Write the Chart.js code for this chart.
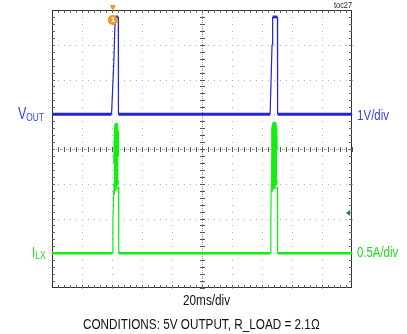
<!DOCTYPE html>
<html>
<head>
<meta charset="utf-8">
<script src="https://cdn.jsdelivr.net/npm/chart.js@4.4.1/dist/chart.umd.min.js"></script>
<style>
  body { margin: 0; background: #fff; }
  #wrap { position: relative; width: 407px; height: 334px; overflow: hidden; font-family: "Liberation Sans", Arial, sans-serif; }
  #scope { position: absolute; left: 0; top: 0; }
  .lbl { position: absolute; white-space: nowrap; line-height: 1; transform-origin: 0 0; }
  .lbl sub { font-size: 11px; line-height: 1; vertical-align: -2px; }
  .blue { color: #3246e4; }
  .green { color: #1edc1e; }
</style>
</head>
<body>
<div id="wrap">
  <canvas id="scope" width="407" height="334"></canvas>
  <div class="lbl" style="left:334px;top:1px;font-size:9px;transform:scaleX(0.82);color:#222">toc27</div>
  <div class="lbl blue" style="left:18px;top:105px;font-size:16.5px;transform:scaleX(0.76)">V<sub>OUT</sub></div>
  <div class="lbl blue" style="left:357px;top:107px;font-size:15px;transform:scaleX(0.77)">1V/div</div>
  <div class="lbl green" style="left:32px;top:244px;font-size:15.5px;transform:scaleX(0.76)">I<sub>LX</sub></div>
  <div class="lbl green" style="left:357px;top:244px;font-size:15px;transform:scaleX(0.76)">0.5A/div</div>
  <div class="lbl" style="left:183px;top:293px;font-size:14px;transform:scaleX(0.84);color:#111">20ms/div</div>
  <div class="lbl" style="left:83px;top:316px;font-size:15.5px;transform:scaleX(0.757);color:#111">CONDITIONS: 5V OUTPUT, R_LOAD = 2.1Ω</div>
  <div id="trigLbl" class="lbl" style="font-size:8px;color:#fff;font-weight:bold">1</div>
</div>
<script>
// scope settings: 10 x 8 divisions
const X_DIVS = 10;
const Y_DIVS = 8;
const MS_PER_DIV = 20;

// V_OUT trace (ms, volts) - 1V/div, 0V at bottom line
const vTime = [0, 39.7, 40.3, 41.2, 42.0, 42.3, 44.2, 44.3, 145.4, 146.0, 146.7, 147.1, 150.3, 150.4, 200];
const vOut = [5.0, 5.0, 5.6, 6.5, 7.6, 7.8, 7.8, 5.0, 5.0, 5.9, 7.0, 7.8, 7.8, 5.0, 5.0];

// I_LX trace (ms, amps) - 0.5A/div, 0A one division above bottom
const iTime = [0, 40.0, 40.6, 41.2, 44.4, 44.5, 145.6, 145.9, 146.1, 150.3, 150.4, 200];
const iLx = [0, 0, 0.45, 0.9, 0.95, 0, 0, 0.5, 0.92, 0.95, 0, 0];

// switching bursts (envelope of the inductor current)
const burst1Time = [41.1, 41.5, 42.0, 42.8, 43.6, 44.1, 44.4];
const burst1Top = [1.3, 1.75, 1.86, 1.88, 1.86, 1.75, 1.4];
const burst1Bottom = [1.0, 0.85, 0.9, 0.95, 0.98, 1.0, 1.05];
const burst2Time = [146.0, 146.5, 147.2, 148.2, 149.2, 149.9, 150.2];
const burst2Top = [1.35, 1.8, 1.88, 1.89, 1.88, 1.8, 1.5];
const burst2Bottom = [1.0, 0.88, 0.92, 0.95, 0.97, 1.0, 1.05];

const triggerTime = 40.5;
const refMarkerA = 0.58;

const BLUE = '#2323dc';
const GREEN = '#14ec14';

const pts = (t, v) => t.map((x, i) => ({ x, y: v[i] }));
const flatWide = (w1, w2) => ctx => (ctx.p0.parsed.y === ctx.p1.parsed.y ? w1 : w2);

const scopeGrid = {
  id: 'scopeGrid',
  beforeDatasetsDraw(chart) {
    const { ctx, chartArea: a, scales: { x, yV } } = chart;
    const px = t => Math.round(x.getPixelForValue(t));
    const py = d => Math.round(yV.getPixelForValue(d));
    ctx.save();
    ctx.fillStyle = '#b0b0b0';
    for (let i = 1; i < X_DIVS; i++) {
      if (i === X_DIVS / 2) continue;
      for (let j = 0; j <= Y_DIVS * 5; j++) ctx.fillRect(px(i * MS_PER_DIV), py(j / 5), 1, 1);
    }
    for (let j = 1; j < Y_DIVS; j++) {
      if (j === Y_DIVS / 2) continue;
      for (let i = 0; i <= X_DIVS * 5; i++) ctx.fillRect(px(i * MS_PER_DIV / 5), py(j), 1, 1);
    }
    // centre axes
    const cx = px(X_DIVS / 2 * MS_PER_DIV), cy = py(Y_DIVS / 2);
    ctx.fillStyle = '#9a9a9a';
    for (let y = a.top; y < a.bottom; y += 2) ctx.fillRect(cx, y, 1, 1);
    for (let x0 = a.left; x0 < a.right; x0 += 2) ctx.fillRect(x0, cy, 1, 1);
    ctx.fillStyle = '#555';
    for (let j = 0; j <= Y_DIVS * 5; j++) ctx.fillRect(cx - 2, py(j / 5), 5, 1);
    for (let i = 0; i <= X_DIVS * 5; i++) ctx.fillRect(px(i * MS_PER_DIV / 5), cy - 2, 1, 5);
    // frame with inner ticks
    ctx.strokeStyle = '#333';
    ctx.lineWidth = 1;
    ctx.strokeRect(Math.round(a.left) + 0.5, Math.round(a.top) + 0.5, Math.round(a.right - a.left) - 1, Math.round(a.bottom - a.top) - 1);
    ctx.fillStyle = '#666';
    for (let i = 1; i < X_DIVS * 5; i++) {
      ctx.fillRect(px(i * MS_PER_DIV / 5), a.top, 1, 3);
      ctx.fillRect(px(i * MS_PER_DIV / 5), a.bottom - 3, 1, 3);
    }
    for (let j = 1; j < Y_DIVS * 5; j++) {
      ctx.fillRect(a.left, py(j / 5), 3, 1);
      ctx.fillRect(a.right - 3, py(j / 5), 3, 1);
    }
    ctx.restore();
  },
  afterDatasetsDraw(chart) {
    const { ctx, chartArea: a, scales: { x, yI } } = chart;
    const tx = x.getPixelForValue(triggerTime);
    ctx.save();
    // trigger marker
    ctx.fillStyle = '#f0962a';
    ctx.beginPath();
    ctx.moveTo(tx - 3, a.top - 5);
    ctx.lineTo(tx + 3, a.top - 5);
    ctx.lineTo(tx, a.top + 1);
    ctx.closePath();
    ctx.fill();
    ctx.beginPath();
    ctx.arc(tx, a.top + 10, 5, 0, Math.PI * 2);
    ctx.fill();
    // channel reference arrow
    const ry = yI.getPixelForValue(refMarkerA);
    ctx.fillStyle = '#1a8a3a';
    ctx.beginPath();
    ctx.moveTo(a.right - 6, ry);
    ctx.lineTo(a.right - 2, ry - 3);
    ctx.lineTo(a.right - 2, ry + 3);
    ctx.closePath();
    ctx.fill();
    ctx.restore();
  }
};

const chart = new Chart(document.getElementById('scope'), {
  type: 'line',
  data: {
    datasets: [
      { data: pts(burst1Time, burst1Top), yAxisID: 'yI', borderColor: GREEN, borderWidth: 1, backgroundColor: GREEN, fill: '+1' },
      { data: pts(burst1Time, burst1Bottom), yAxisID: 'yI', borderColor: GREEN, borderWidth: 1, fill: false },
      { data: pts(burst2Time, burst2Top), yAxisID: 'yI', borderColor: GREEN, borderWidth: 1, backgroundColor: GREEN, fill: '+1' },
      { data: pts(burst2Time, burst2Bottom), yAxisID: 'yI', borderColor: GREEN, borderWidth: 1, fill: false },
      { data: pts(iTime, iLx), yAxisID: 'yI', borderColor: GREEN, fill: false,
        segment: { borderWidth: flatWide(2.5, 1.2) } },
      { data: pts(vTime, vOut), yAxisID: 'yV', borderColor: BLUE, fill: false,
        segment: { borderWidth: flatWide(2.8, 1.2) } }
    ]
  },
  options: {
    responsive: false,
    animation: false,
    layout: { padding: { left: 52, right: 55, top: 10, bottom: 46 } },
    plugins: { legend: { display: false }, tooltip: { enabled: false } },
    elements: { point: { radius: 0 }, line: { tension: 0 } },
    scales: {
      x: { type: 'linear', min: 0, max: X_DIVS * MS_PER_DIV, display: false },
      yV: { type: 'linear', min: 0, max: Y_DIVS, display: false },
      yI: { type: 'linear', min: -0.5, max: 3.5, display: false }
    }
  },
  plugins: [scopeGrid]
});

const trig = document.getElementById('trigLbl');
trig.style.left = (chart.scales.x.getPixelForValue(triggerTime) - 2) + 'px';
trig.style.top = (chart.chartArea.top + 6) + 'px';
</script>
</body>
</html>
